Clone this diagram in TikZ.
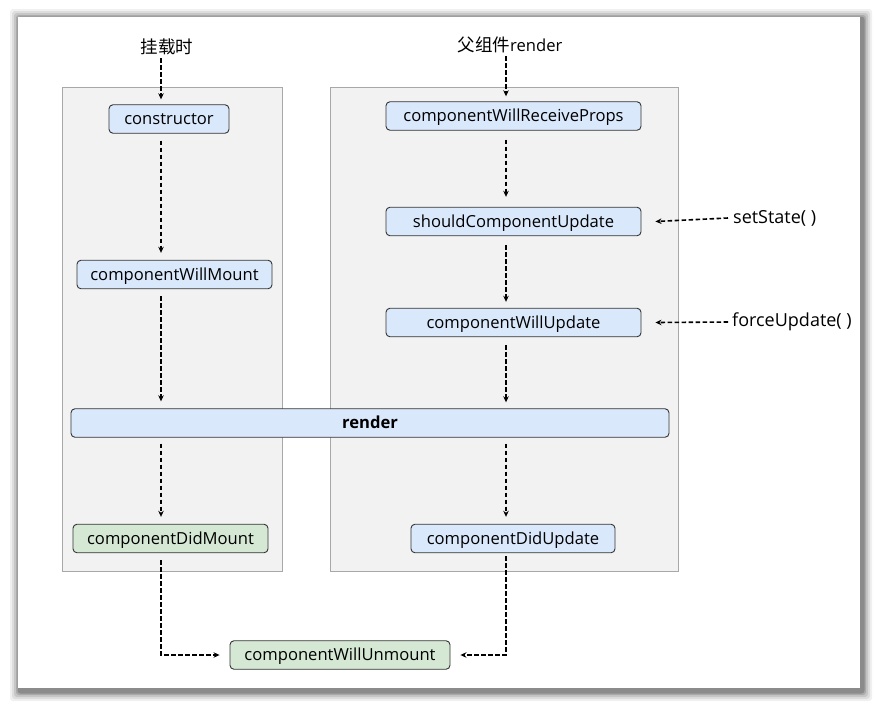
\documentclass[tikz,border=0pt]{standalone}
\usepackage{fontspec}
\setmainfont{Open Sans}
\newfontfamily\cjk{Noto Sans CJK SC}
\usetikzlibrary{arrows.meta}
\definecolor{boxblue}{HTML}{DAE8FC}
\definecolor{boxgreen}{HTML}{D5E8D4}
\definecolor{panelfill}{HTML}{F2F2F2}
\definecolor{panelline}{HTML}{A8A8A8}
\definecolor{boxline}{HTML}{333333}
\begin{document}
\begin{tikzpicture}[x=1pt,y=-1pt,
  every node/.style={font=\fontsize{16.6}{19}\selectfont, inner sep=0pt},
  lifebox/.style={draw=boxline, line width=0.9pt, rounded corners=4pt, fill=boxblue, minimum height=28.5pt, text height=13.5pt, text depth=2.5pt, anchor=center},
  greenbox/.style={lifebox, fill=boxgreen},
  panel/.style={draw=panelline, line width=0.9pt, fill=panelfill},
  flow/.style={dash pattern=on 4.5pt off 2.5pt, line width=1.6pt, -{Stealth[length=6pt,width=5.5pt]}},
  lbl/.style={anchor=center},
  sidelbl/.style={anchor=west, font=\fontsize{18}{21}\selectfont}
]
\useasboundingbox (0,0) rectangle (879,705);
\fill[white] (0,0) rectangle (879,705);
% shadow
\foreach \d/\o in {9/0.06,7/0.08,5/0.1,3/0.14,1.5/0.18}{
  \fill[black, opacity=\o, rounded corners=3pt] (18-\d+1,17-\d+1) rectangle (860+\d+3,688+\d+4);
}
\fill[white] (18,17) rectangle (860,688);
% panels
\draw[panel] (62,87) rectangle (282,571);
\draw[panel] (330,87) rectangle (678,571);
% column coordinates
\coordinate (colL) at (161,0);
\coordinate (colR) at (506,0);
% labels
\node[lbl, font=\fontsize{17.5}{20}\selectfont\cjk] (mount) at (167,47) {挂载时};
\node[lbl] (parent) at (510,45) {{\fontsize{17.5}{20}\selectfont\cjk 父组件}render};
% boxes
\node[lifebox, minimum width=120pt] (ctor) at (169,119) {constructor};
\node[lifebox, minimum width=195pt] (cwm) at (174.5,274.5) {componentWillMount};
\node[lifebox, minimum width=598pt] (render) at (370,423) {\bfseries render};
\node[greenbox, minimum width=195pt] (cdm) at (170.5,538.5) {componentDidMount};
\node[lifebox, minimum width=255pt] (cwrp) at (513.5,116) {componentWillReceiveProps};
\node[lifebox, minimum width=255pt] (scu) at (513.5,221.5) {shouldComponentUpdate};
\node[lifebox, minimum width=255pt] (cwu) at (513.5,322.5) {componentWillUpdate};
\node[lifebox, minimum width=204pt] (cdu) at (513,538.5) {componentDidUpdate};
\node[greenbox, minimum width=220pt] (cwun) at (340,655) {componentWillUnmount};
\node[sidelbl] (setstate) at (733,218) {setState( )};
\node[sidelbl] (force) at (732,322) {forceUpdate( )};
% left column flow
\draw[flow] ([yshift=-3pt]mount.south -| colL) -- ([yshift=5pt]ctor.north -| colL);
\draw[flow] ([yshift=-7pt]ctor.south -| colL) -- ([yshift=7pt]cwm.north -| colL);
\draw[flow] ([yshift=-7pt]cwm.south -| colL) -- ([yshift=7pt]render.north -| colL);
\draw[flow] ([yshift=-6pt]render.south -| colL) -- ([yshift=7pt]cdm.north -| colL);
% right column flow
\draw[flow] ([yshift=-3pt]parent.south -| colR) -- ([yshift=5pt]cwrp.north -| colR);
\draw[flow] ([yshift=-9pt]cwrp.south -| colR) -- ([yshift=10pt]scu.north -| colR);
\draw[flow] ([yshift=-9pt]scu.south -| colR) -- ([yshift=6pt]cwu.north -| colR);
\draw[flow] ([yshift=-8pt]cwu.south -| colR) -- ([yshift=6pt]render.north -| colR);
\draw[flow] ([yshift=-6pt]render.south -| colR) -- ([yshift=7pt]cdu.north -| colR);
% side inputs
\draw[flow] ([xshift=-5pt]setstate.west) -- ([xshift=14pt]scu.east);
\draw[flow] ([xshift=-4pt]force.west) -- ([xshift=14pt]cwu.east);
% unmount
\draw[flow] ([yshift=-7pt]cdm.south -| colL) |- ([xshift=-10pt]cwun.west);
\draw[flow] ([yshift=-3pt]cdu.south -| colR) |- ([xshift=10pt]cwun.east);
\end{tikzpicture}
\end{document}
